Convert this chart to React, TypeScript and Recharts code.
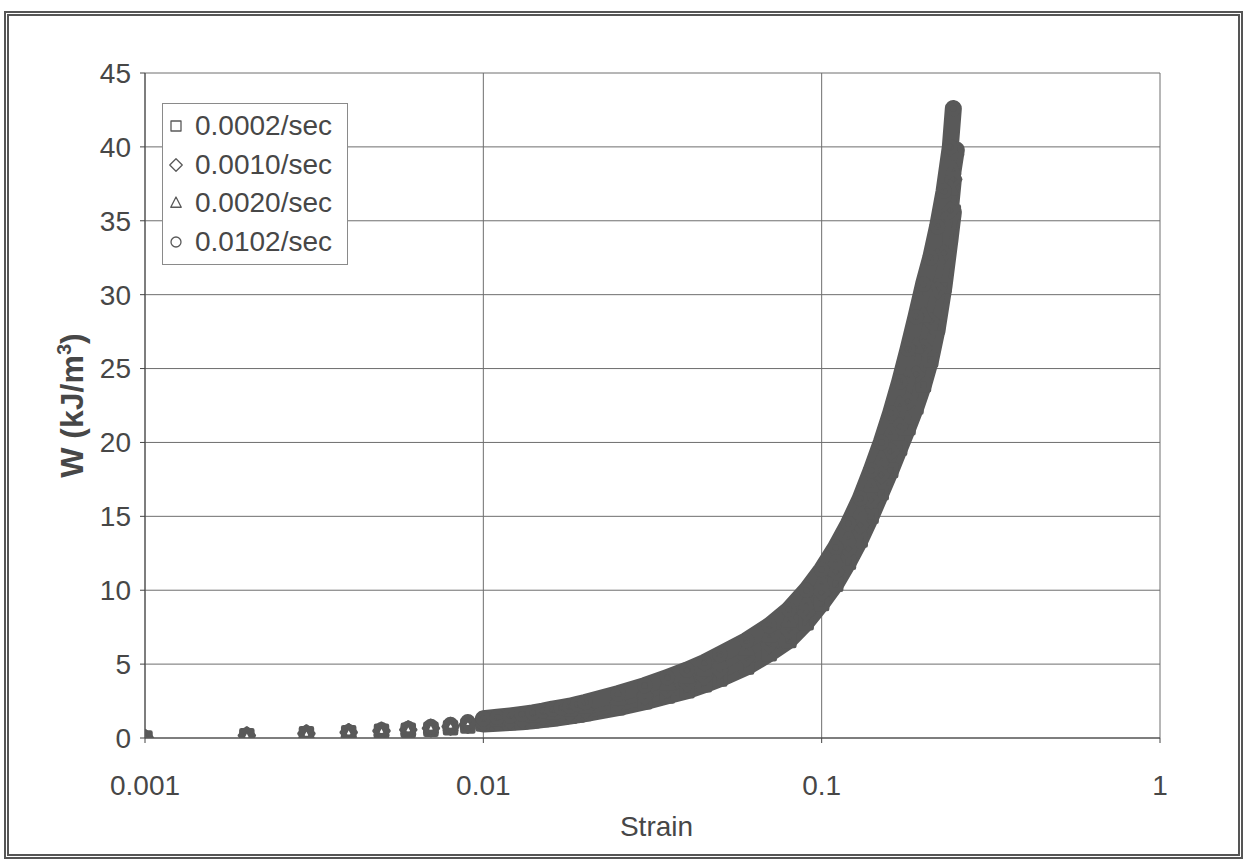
import { CartesianGrid, Label, Scatter, ScatterChart, XAxis, YAxis } from "recharts";

// strain grid shared by every series (the test ends at slightly different strains)
const STRAIN = [
  0.001, 0.002, 0.003, 0.004, 0.005, 0.006, 0.007, 0.008, 0.009, 0.01, 0.011, 0.012, 0.013, 0.014, 0.015, 0.016,
  0.017, 0.018, 0.019, 0.02, 0.025, 0.03, 0.035, 0.04, 0.045, 0.05, 0.06, 0.07, 0.08, 0.09, 0.1, 0.11, 0.12, 0.13,
  0.14, 0.15, 0.16, 0.17, 0.18, 0.19, 0.2, 0.21, 0.22, 0.23, 0.24, 0.245, 0.25,
];

// W (kJ/m3), one list per strain rate
const W_0002 = [
  0, 0.15, 0.28, 0.36, 0.45, 0.52, 0.6, 0.7, 0.82, 0.95, 1.0, 1.05, 1.1, 1.17, 1.25, 1.32, 1.4, 1.48, 1.56, 1.65, 2.05,
  2.45, 2.85, 3.2, 3.6, 4.0, 4.8, 5.7, 6.6, 7.8, 9.1, 10.4, 11.9, 13.4, 15.0, 16.6, 18.1, 19.6, 21.0, 22.4, 23.9, 25.6,
  27.8, 30.6, 33.9, 35.6,
];
const W_0010 = [
  0, 0.17, 0.3, 0.38, 0.48, 0.56, 0.66, 0.77, 0.9, 1.05, 1.12, 1.19, 1.27, 1.35, 1.45, 1.54, 1.62, 1.71, 1.8, 1.9, 2.37,
  2.83, 3.29, 3.7, 4.15, 4.6, 5.45, 6.35, 7.3, 8.5, 9.85, 11.25, 12.8, 14.4, 16.1, 17.8, 19.4, 21.1, 22.8, 24.6, 26.4,
  28.2, 30.3, 32.8, 35.7, 37.8,
];
const W_0020 = [
  0, 0.18, 0.31, 0.4, 0.51, 0.6, 0.71, 0.84, 0.98, 1.17, 1.26, 1.34, 1.43, 1.52, 1.63, 1.74, 1.83, 1.92, 2.04, 2.15, 2.68,
  3.19, 3.7, 4.15, 4.65, 5.15, 6.05, 6.95, 7.95, 9.15, 10.55, 12.05, 13.6, 15.3, 17.1, 18.9, 20.7, 22.6, 24.5, 26.5, 28.6,
  30.4, 32.5, 35.0, 37.2, 38.5, 39.8,
];
const W_0102 = [
  0, 0.2, 0.33, 0.43, 0.55, 0.65, 0.78, 0.92, 1.1, 1.3, 1.4, 1.5, 1.6, 1.7, 1.82, 1.95, 2.05, 2.15, 2.28, 2.4, 3.0, 3.55,
  4.1, 4.6, 5.1, 5.65, 6.6, 7.6, 8.7, 10.0, 11.4, 12.9, 14.5, 16.2, 18.1, 20.0, 22.0, 24.1, 26.3, 28.5, 30.7, 32.5, 34.6,
  37.0, 40.0, 42.6,
];

const X_TICKS = [0.001, 0.01, 0.1, 1];
const Y_TICKS = [0, 5, 10, 15, 20, 25, 30, 35, 40, 45];

const INK = "#595959";
const TEXT = "#474747";
const GRID = "#6e6e6e";
const FONT = '"Liberation Sans", Arial, sans-serif';

type Kind = "square" | "diamond" | "triangle" | "circle";

const SERIES: { name: string; kind: Kind; values: number[] }[] = [
  { name: "0.0002/sec", kind: "square", values: W_0002 },
  { name: "0.0010/sec", kind: "diamond", values: W_0010 },
  { name: "0.0020/sec", kind: "triangle", values: W_0020 },
  { name: "0.0102/sec", kind: "circle", values: W_0102 },
];

const toPoints = (values: number[]) => values.map((w, i) => ({ e: STRAIN[i], w }));

function Glyph({ kind, cx, cy, r, sw }: { kind: Kind; cx: number; cy: number; r: number; sw: number }) {
  const common = { fill: "none", stroke: INK, strokeWidth: sw, strokeLinejoin: "round" as const };
  if (kind === "square") return <rect x={cx - r} y={cy - r} width={2 * r} height={2 * r} {...common} />;
  if (kind === "diamond") {
    const d = r * 1.25;
    return <polygon points={`${cx},${cy - d} ${cx + d},${cy} ${cx},${cy + d} ${cx - d},${cy}`} {...common} />;
  }
  if (kind === "triangle") {
    return (
      <polygon
        points={`${cx},${cy - r * 1.2} ${cx + r * 1.05},${cy + r * 0.85} ${cx - r * 1.05},${cy + r * 0.85}`}
        {...common}
      />
    );
  }
  return <circle cx={cx} cy={cy} r={r} {...common} />;
}

function LegendBox() {
  return (
    <div
      style={{
        position: "absolute",
        left: 162,
        top: 103,
        width: 184,
        padding: "3px 0",
        border: "1px solid #8a8a8a",
        background: "#fff",
        fontFamily: FONT,
        fontSize: 28,
        color: TEXT,
      }}
    >
      {SERIES.map((s) => (
        <div key={s.name} style={{ display: "flex", alignItems: "center", height: 38.5, whiteSpace: "nowrap" }}>
          <svg width={32} height={20} style={{ flex: "none" }}>
            <Glyph kind={s.kind} cx={13} cy={10} r={5} sw={1.3} />
          </svg>
          <span>{s.name}</span>
        </div>
      ))}
    </div>
  );
}

function YTitle(props: any) {
  const vb = props.viewBox;
  const x = vb.x + 78;
  const y = vb.y + vb.height / 2;
  return (
    <text
      x={x}
      y={y}
      transform={`rotate(-90, ${x}, ${y})`}
      textAnchor="middle"
      fill={TEXT}
      fontFamily={FONT}
      fontSize={32}
      fontWeight="bold"
    >
      W (kJ/m
      <tspan dy={-12} fontSize={20}>
        3
      </tspan>
      <tspan dy={12}>)</tspan>
    </text>
  );
}

function XTitle(props: any) {
  const vb = props.viewBox;
  return (
    <text x={vb.x + vb.width / 2 + 4} y={vb.y + 98} textAnchor="middle" fill={TEXT} fontFamily={FONT} fontSize={28}>
      Strain
    </text>
  );
}

export default function App() {
  const tick = { fill: TEXT, fontSize: 28, fontFamily: FONT };
  return (
    <div style={{ position: "absolute", left: 0, top: 0, width: 1248, height: 867, background: "#fff" }}>
      <div
        style={{
          position: "absolute",
          left: 4,
          top: 11,
          width: 1239,
          height: 848,
          border: "5px double #555",
          boxSizing: "border-box",
        }}
      />
      <ScatterChart width={1248} height={867} margin={{ top: 73, right: 88, bottom: 29, left: 5 }}>
        <CartesianGrid stroke={GRID} strokeWidth={1} />
        <XAxis
          type="number"
          dataKey="e"
          scale="log"
          domain={[0.001, 1]}
          ticks={X_TICKS}
          allowDataOverflow
          height={100}
          tick={tick}
          tickSize={5}
          tickMargin={32}
          stroke="#444"
          tickFormatter={(v: number) => String(v)}
        >
          <Label content={XTitle} />
        </XAxis>
        <YAxis
          type="number"
          dataKey="w"
          domain={[0, 45]}
          ticks={Y_TICKS}
          allowDataOverflow
          width={140}
          tick={tick}
          tickSize={5}
          tickMargin={9}
          stroke="#444"
        >
          <Label content={YTitle} />
        </YAxis>
        {SERIES.map((s) => (
          <Scatter
            key={`band-${s.name}`}
            data={toPoints(s.values).filter((p) => p.e >= 0.01)}
            fill={INK}
            line={{ stroke: INK, strokeWidth: 17, strokeLinecap: "round", strokeLinejoin: "round" }}
            shape={() => <g />}
            legendType="none"
            isAnimationActive={false}
          />
        ))}
        {SERIES.map((s) => (
          <Scatter
            key={s.name}
            name={s.name}
            data={toPoints(s.values)}
            fill={INK}
            shape={(p: any) => <Glyph kind={s.kind} cx={p.cx} cy={p.cy} r={5.5} sw={4.5} />}
            isAnimationActive={false}
          />
        ))}
      </ScatterChart>
      <LegendBox />
    </div>
  );
}
